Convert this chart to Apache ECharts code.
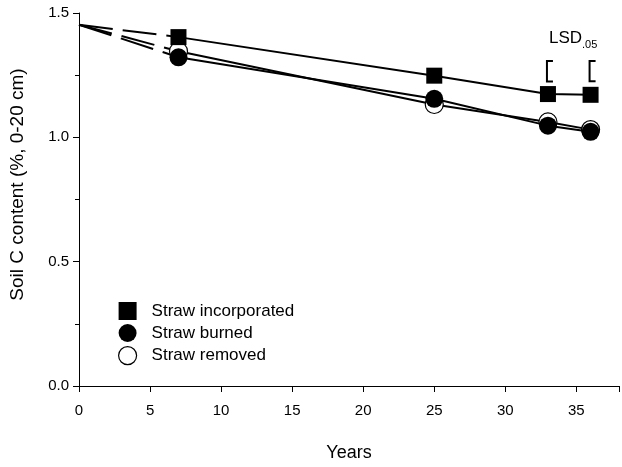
<!DOCTYPE html>
<html>
<head>
<meta charset="utf-8">
<script src="https://cdn.jsdelivr.net/npm/echarts@6/dist/echarts.min.js"></script>
<style>
html,body{margin:0;padding:0;background:#fff;}
#c{width:622px;height:467px;}
</style>
</head>
<body>
<div id="c"></div>
<script>
// Data
var startYear = 0;
var startValue = 1.453;
var years = [7, 25, 33, 36];
var incorporated = [1.403, 1.248, 1.174, 1.171];
var burned = [1.322, 1.155, 1.047, 1.022];
var removed = [1.346, 1.132, 1.062, 1.031];
var lsdYears = [33, 36];
var lsdLow = [1.225, 1.226];
var lsdHigh = [1.307, 1.307];
var xTicks = [0, 5, 10, 15, 20, 25, 30, 35];
var yTicks = [0.0, 0.5, 1.0, 1.5];

function pts(vals){ return years.map(function(y,i){ return [y, vals[i]]; }); }
function dashPts(vals){ return [[startYear, startValue],[years[0], vals[0]]]; }

var FONT = 'Liberation Sans, Arial, sans-serif';
var chart = echarts.init(document.getElementById('c'));

var dashStyle = {color:'#000', width:2, type:[34,10]};
var solidStyle = {color:'#000', width:2};

var option = {
  animation:false,
  backgroundColor:'#fff',
  textStyle:{fontFamily:FONT, color:'#000'},
  grid:{left:79, right:1, top:13, bottom:75, containLabel:false},
  xAxis:{
    type:'value', min:0, max:38, interval:5,
    name:'Years', nameLocation:'middle', nameGap:58,
    nameTextStyle:{fontSize:18, fontFamily:FONT, color:'#000'},
    axisLine:{show:true, onZero:false, lineStyle:{color:'#000', width:1}},
    axisTick:{show:true, inside:false, length:6, lineStyle:{color:'#000'}},
    axisLabel:{fontSize:15, color:'#000', fontFamily:FONT, margin:17,
      formatter:function(v){ return xTicks.indexOf(v)>=0 ? String(v) : ''; }},
    splitLine:{show:false}
  },
  yAxis:{
    type:'value', min:0, max:1.5, interval:0.5,
    name:'Soil C content (%, 0-20 cm)', nameLocation:'middle', nameGap:52,
    nameTextStyle:{fontSize:19, fontFamily:FONT, color:'#000', padding:[0,0,0,30]},
    axisLine:{show:true, onZero:false, lineStyle:{color:'#000', width:1}},
    axisTick:{show:true, inside:false, length:6, lineStyle:{color:'#000'}},
    minorTick:{show:true, splitNumber:2, length:4, lineStyle:{color:'#000'}},
    axisLabel:{fontSize:15, color:'#000', fontFamily:FONT, margin:10,
      formatter:function(v){ return yTicks.indexOf(v)>=0 ? v.toFixed(1) : ''; }},
    splitLine:{show:false}
  },
  legend:{
    orient:'vertical', left:113, top:297, itemGap:4,
    itemWidth:18, itemHeight:18,
    textStyle:{fontSize:17, fontFamily:FONT, color:'#000', padding:[0,0,0,10]},
    data:[
      {name:'Straw incorporated', icon:'rect', itemStyle:{color:'#000', borderWidth:0}},
      {name:'Straw burned', icon:'circle', itemStyle:{color:'#000', borderWidth:0}},
      {name:'Straw removed', icon:'circle', itemStyle:{color:'#fff', borderColor:'#000', borderWidth:1.2}}
    ]
  },
  graphic:[
    {type:'text', left:549, top:30, style:{text:'LSD', font:'17px '+FONT, fill:'#000'}},
    {type:'text', left:582, top:39, style:{text:'.05', font:'11px '+FONT, fill:'#000'}}
  ],
  series:[
    {name:'d-removed', type:'line', data:dashPts(removed), symbol:'none', lineStyle:dashStyle, z:1, silent:true},
    {name:'d-burned', type:'line', data:dashPts(burned), symbol:'none', lineStyle:dashStyle, z:1, silent:true},
    {name:'d-incorporated', type:'line', data:dashPts(incorporated), symbol:'none', lineStyle:dashStyle, z:1, silent:true},
    {name:'Straw removed', type:'line', data:pts(removed), symbol:'circle', symbolSize:18,
      itemStyle:{color:'#fff', borderColor:'#000', borderWidth:1.2}, lineStyle:solidStyle, z:2},
    {name:'Straw burned', type:'line', data:pts(burned), symbol:'circle', symbolSize:18,
      itemStyle:{color:'#000', borderWidth:0}, lineStyle:solidStyle, z:3},
    {name:'Straw incorporated', type:'line', data:pts(incorporated), symbol:'rect', symbolSize:16,
      itemStyle:{color:'#000', borderWidth:0}, lineStyle:solidStyle, z:4},
    {name:'LSD', type:'custom', z:5, silent:true,
      data:lsdYears.map(function(y,i){ return [y, lsdLow[i], lsdHigh[i]]; }),
      renderItem:function(params, api){
        var top = api.coord([api.value(0), api.value(2)]);
        var bot = api.coord([api.value(0), api.value(1)]);
        var x = top[0]-1;
        return {type:'polyline', shape:{points:[[x+6, top[1]],[x, top[1]],[x, bot[1]],[x+6, bot[1]]]},
          style:{stroke:'#000', lineWidth:2, fill:null}};
      }
    }
  ]
};
chart.setOption(option);
</script>
</body>
</html>
